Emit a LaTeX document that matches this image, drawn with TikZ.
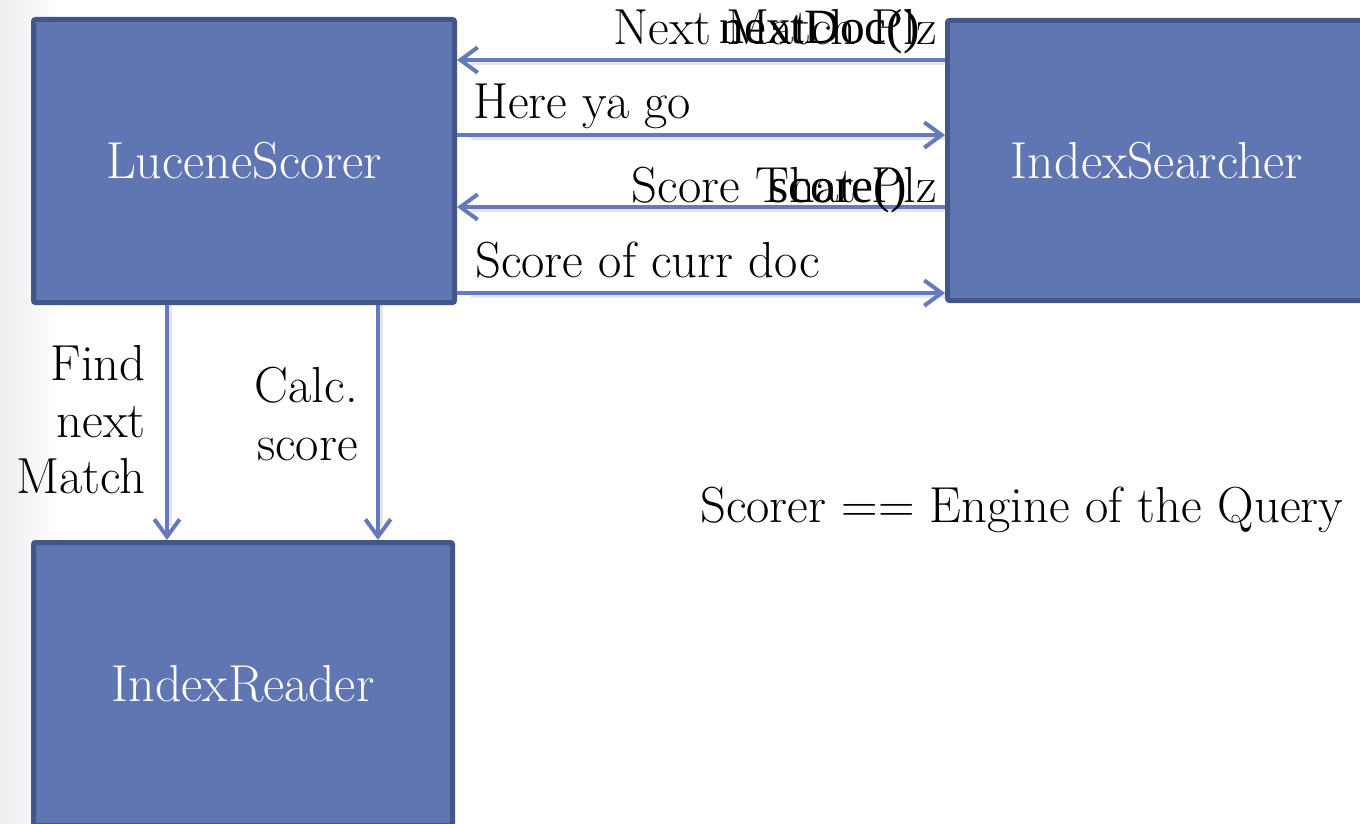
\documentclass[tikz,border=0pt]{standalone}
\usepackage{fontspec}
\newfontfamily\codefont{Liberation Serif}
\usetikzlibrary{arrows.meta}
\definecolor{boxfill}{RGB}{96,118,179}
\definecolor{boxedge}{RGB}{67,86,137}
\definecolor{arrowcol}{RGB}{100,122,186}
\tikzset{
  block/.style={draw=boxedge, fill=boxfill, line width=3.75pt, rounded corners=1.5pt,
    text=white, font=\fontsize{39}{46}\selectfont, inner sep=0pt},
  msg/.style={font=\fontsize{38}{45}\selectfont, inner sep=0pt, text=black},
  code/.style={font=\codefont\fontsize{37}{44}\selectfont, inner sep=0pt, text=black},
  link/.style={draw=arrowcol, line width=3pt, -{Straight Barb[length=13pt,width=19pt]}},
  linkshadow/.style={draw=black, opacity=0.10, line width=3.5pt}
}
\begin{document}
\begin{tikzpicture}[x=0.75pt,y=-0.75pt]
  \useasboundingbox (0,0) rectangle (1360,824);
  % page background with a soft grey fade at the left edge
  \fill[white] (0,0) rectangle (1360,824);
  \shade[left color=black!7, right color=white] (0,0) rectangle (60,824);

  % the three components
  \node[block, minimum width=315.75pt, minimum height=212.25pt] (LS) at (244,161) {LuceneScorer};
  \node[block, minimum width=314.25pt, minimum height=210pt] (IS) at (1157,160.5) {IndexSearcher};
  \node[block, minimum width=314.25pt, minimum height=212.25pt] (IR) at (243,684) {IndexReader};

  % rows of the message exchange
  \coordinate (r1) at (0,60);
  \coordinate (r2) at (0,135);
  \coordinate (r3) at (0,207);
  \coordinate (r4) at (0,293);
  \coordinate (c1) at (167,0);
  \coordinate (c2) at (378,0);

  % shadows under the connectors
  \foreach \r in {r1,r2,r3,r4}
    \draw[linkshadow] ([shift={(0,2.5)}]IS.west |- \r) -- ([shift={(14,2.5)}]LS.east |- \r);
  \foreach \c in {c1,c2}
    \draw[linkshadow] ([shift={(2.5,0)}]LS.south -| \c) -- ([shift={(2.5,-14)}]IR.north -| \c);

  % connectors
  \draw[link] (IS.west |- r1) -- (LS.east |- r1);
  \draw[link] (LS.east |- r2) -- (IS.west |- r2);
  \draw[link] (IS.west |- r3) -- (LS.east |- r3);
  \draw[link] (LS.east |- r4) -- (IS.west |- r4);
  \draw[link] (LS.south -| c1) -- (IR.north -| c1);
  \draw[link] (LS.south -| c2) -- (IR.north -| c2);

  % labels of the horizontal messages
  \node[msg, anchor=base east] (m1) at (937,45) {Next Match Plz};
  \node[code, anchor=base east] (m1c) at (920,44) {nextDoc()};
  \node[msg, anchor=base west] (m2) at (473,118) {Here ya go};
  \node[msg, anchor=base east] (m3) at (937,202) {Score That Plz};
  \node[code, anchor=base east] (m3c) at (907,202) {score()};
  \node[msg, anchor=base west] (m4) at (475,277) {Score of curr doc};

  % labels of the vertical messages
  \node[msg, anchor=base east] (f1) at (146,380) {Find};
  \node[msg, anchor=base east] (f2) at (146,437) {next};
  \node[msg, anchor=base east] (f3) at (146,493) {Match};
  \node[msg, anchor=base east] (s1) at (358,402) {Calc.};
  \node[msg, anchor=base east] (s2) at (358,460) {score};

  % caption
  \node[msg, anchor=base west] (cap) at (700,522) {Scorer == Engine of the Query};
\end{tikzpicture}
\end{document}
